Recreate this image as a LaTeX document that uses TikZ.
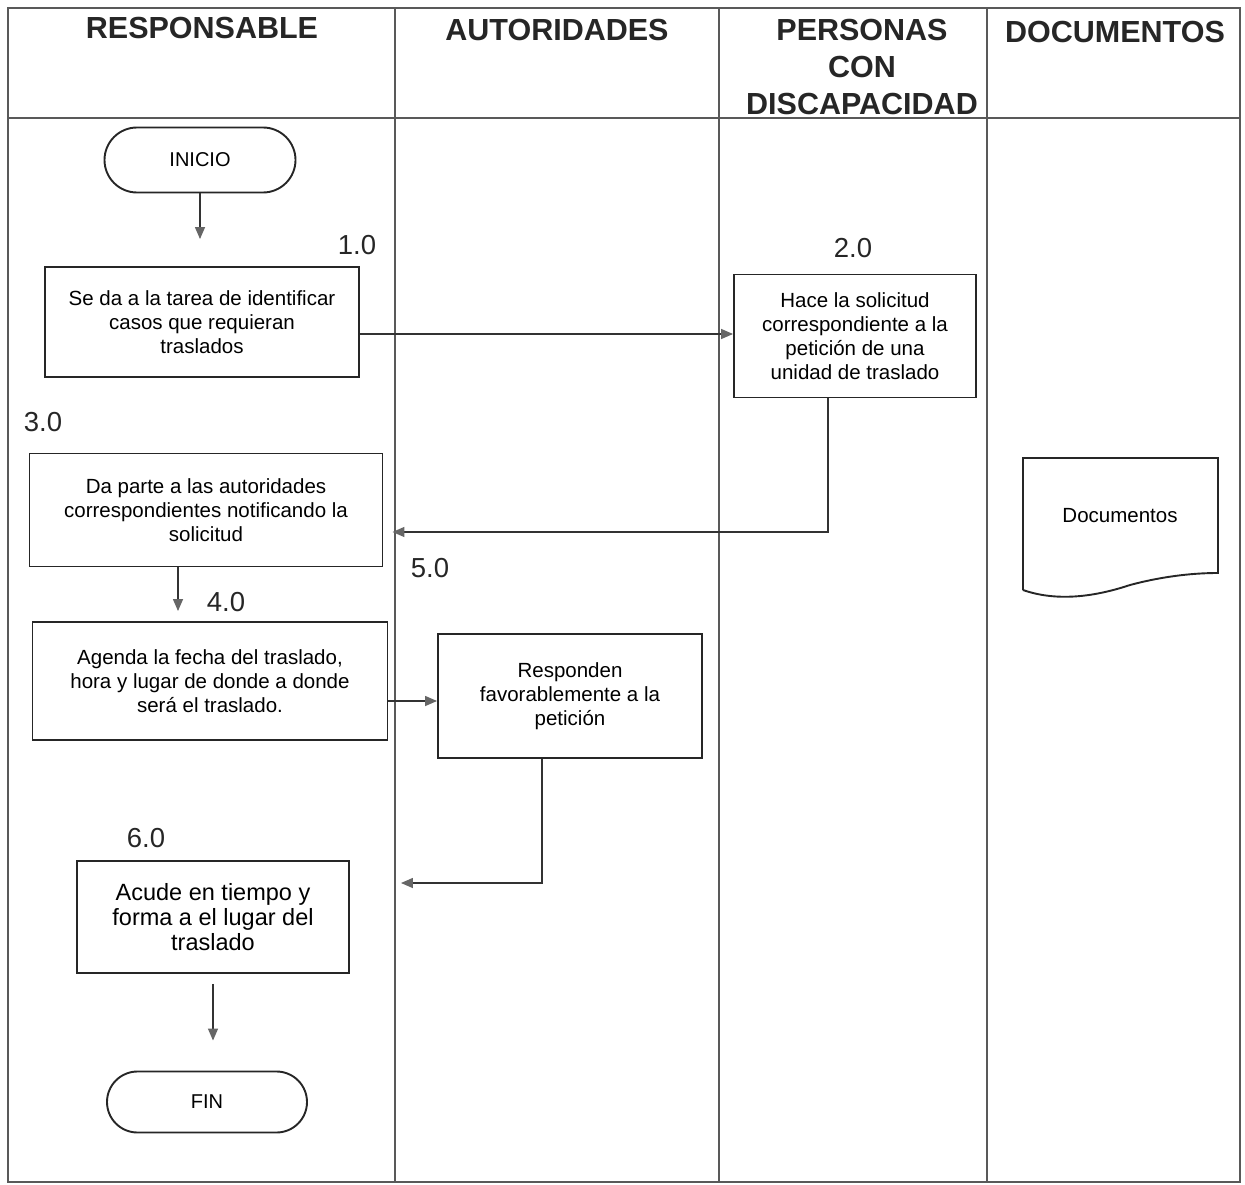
\documentclass[tikz,border=0pt]{standalone}
\usepackage{fontspec}
\setmainfont{Liberation Sans}
\usetikzlibrary{arrows.meta,shapes.misc,calc}
\begin{document}
\begin{tikzpicture}[x=1pt,y=-1pt,
  grid/.style={draw=black!65,line width=1.4pt},
  proc/.style={draw=black!85,line width=1.9pt,align=center,inner sep=0pt,font=\fontsize{20.5}{24}\selectfont},
  term/.style={draw=black!85,line width=1.9pt,rounded rectangle,inner sep=0pt,font=\fontsize{20}{22}\selectfont},
  hdr/.style={font=\bfseries\fontsize{30.5}{37}\selectfont,align=center,text=black!85},
  num/.style={font=\fontsize{27.5}{30}\selectfont,text=black!85},
  arr/.style={draw=black!80,line width=1.4pt,-{Triangle[length=12pt,width=10pt,color=black!60]}},
  docshape/.style={draw=black!85,line width=1.9pt}
]
\useasboundingbox (0,0) rectangle (1245,1185);
% frame and lanes
\draw[grid] (8,8) rectangle (1240,1182);
\draw[grid] (8,118) -- (1240,118);
\draw[grid] (395,8) -- (395,1182);
\draw[grid] (719,8) -- (719,1182);
\draw[grid] (987,8) -- (987,1182);
% headers
\node[hdr] (h1) at (202,28) {RESPONSABLE};
\node[hdr] (h2) at (557,30) {AUTORIDADES};
\node[hdr] (h3) at (862,67) {PERSONAS\\CON\\DISCAPACIDAD};
\node[hdr] (h4) at (1115,32) {DOCUMENTOS};
% nodes
\node[term,minimum width=191pt,minimum height=65pt] (ini) at (200,160) {INICIO};
\node[proc,minimum width=314pt,minimum height=110pt] (b1) at (202,322) {Se da a la tarea de identificar\\casos que requieran\\traslados};
\node[proc,minimum width=242pt,minimum height=123pt] (b2) at (855,336) {Hace la solicitud\\correspondiente a la\\petición de una\\unidad de traslado};
\node[proc,minimum width=353pt,minimum height=113pt] (b3) at (206,510) {Da parte a las autoridades\\correspondientes notificando la\\solicitud};
\node[proc,minimum width=355pt,minimum height=118pt] (b4) at (210,681) {Agenda la fecha del traslado,\\hora y lugar de donde a donde\\será el traslado.};
\node[proc,minimum width=264pt,minimum height=124pt] (b5) at (570,696) {Responden\\favorablemente a la\\petición};
\node[proc,minimum width=272pt,minimum height=112pt,font=\fontsize{23.5}{25}\selectfont] (b6) at (213,917) {Acude en tiempo y\\forma a el lugar del\\traslado};
\node[term,minimum width=200pt,minimum height=61pt] (fin) at (207,1102) {FIN};
% numbers
\node[num] (n1) at (357,245) {1.0};
\node[num] (n2) at (853,248) {2.0};
\node[num] (n3) at (43,422) {3.0};
\node[num] (n4) at (226,602) {4.0};
\node[num] (n5) at (430,568) {5.0};
\node[num] (n6) at (146,838) {6.0};
% document shape
\coordinate (d1) at (1023,458);
\coordinate (d2) at (1218,458);
\coordinate (d3) at (1218,573);
\coordinate (d4) at (1023,590);
\draw[docshape] (d4) -- (d1) -- (d2) -- (d3)
  .. controls (1190,573) and (1160,577) .. (1130,585)
  .. controls (1100,595) and (1060,603) .. (d4);
\node[font=\fontsize{20.5}{24}\selectfont] (doc) at (1120,516) {Documentos};
% connectors
\draw[arr,shorten >=27pt] (ini.south) -- (ini.south |- b1.north);
\draw[arr] ([yshift=-12pt]b1.east) -- ([yshift=-12pt]b1.east -| b2.west);
\draw[arr] ([xshift=-27pt]b2.south) |- ([xshift=9pt,yshift=-22pt]b3.east);
\draw[arr,shorten >=10pt] ([xshift=-28pt]b3.south) -- ([xshift=-28pt]b3.south |- b4.north);
\draw[arr] ([yshift=-20pt]b4.east) -- ([yshift=-20pt]b4.east -| b5.west);
\draw[arr] ([xshift=-28pt]b5.south) |- ([xshift=51pt,yshift=34pt]b6.east);
\draw[arr,shorten <=10pt,shorten >=30pt] (b6.south) -- (b6.south |- fin.north);
\end{tikzpicture}
\end{document}
